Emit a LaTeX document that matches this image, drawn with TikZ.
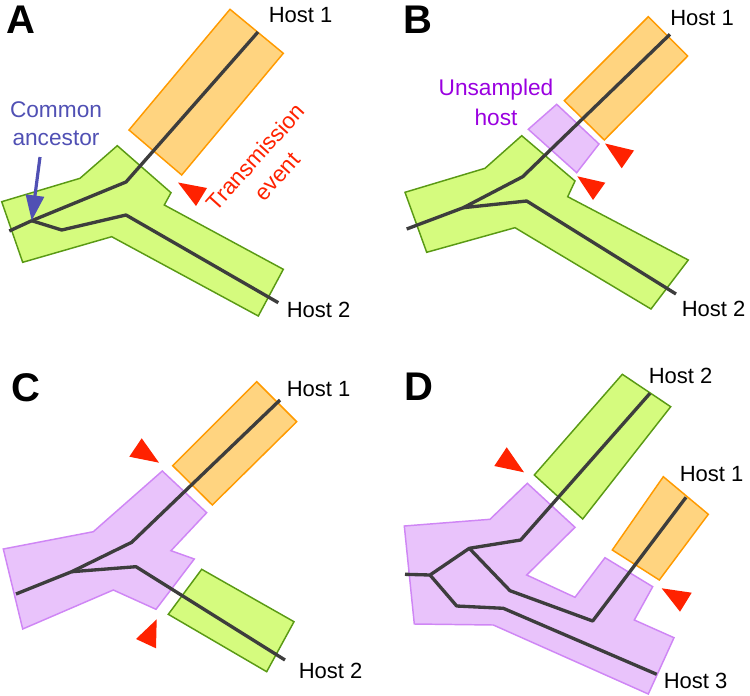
\documentclass[tikz,border=0pt]{standalone}
\usepackage{fontspec}
\setmainfont{Liberation Sans}
\usetikzlibrary{arrows.meta}
\definecolor{orfill}{HTML}{FFD480}
\definecolor{ordraw}{HTML}{FF9A00}
\definecolor{grfill}{HTML}{D5FB7E}
\definecolor{grdraw}{HTML}{5A9A14}
\definecolor{pufill}{HTML}{E9C3FB}
\definecolor{pudraw}{HTML}{CF86F5}
\definecolor{treegray}{HTML}{3D3D3D}
\definecolor{redtri}{HTML}{FF2200}
\definecolor{bluetxt}{HTML}{5050B4}
\definecolor{purtxt}{HTML}{9A00E0}
\tikzset{
  orbox/.style={fill=orfill,draw=ordraw,line width=1.1pt,line join=miter},
  grbox/.style={fill=grfill,draw=grdraw,line width=1.1pt,line join=miter},
  pubox/.style={fill=pufill,draw=pudraw,line width=1.1pt,line join=miter},
  tree/.style={draw=treegray,line width=2.5pt,line join=round},
  tri/.style={fill=redtri},
  hostlbl/.style={font=\fontsize{16.5}{19}\selectfont,anchor=base west,inner sep=0pt},
  panellbl/.style={font=\fontsize{30}{36}\selectfont\bfseries,anchor=base west,inner sep=0pt},
  notelbl/.style={font=\fontsize{17}{20}\selectfont,anchor=base,inner sep=0pt},
  twoline/.style={font=\fontsize{17}{21}\selectfont,align=center,anchor=center,inner sep=0pt}
}
\begin{document}
\begin{tikzpicture}[x=0.75pt,y=-0.75pt]
\useasboundingbox (0,0) rectangle (750,696);

% ================= Panel A =================
\draw[orbox] (230,9.3) -- (283.3,53.3) -- (181.7,175) -- (129,130) -- cycle;
\draw[grbox] (1.7,201.7) -- (80,178.3) -- (117.3,145.7) -- (171,192.7) -- (164.3,205)
  -- (283.3,269.3) -- (258.3,316) -- (111.7,236.7) -- (22.7,262.3) -- cycle;
\coordinate (aH1) at (258,32);
\coordinate (aJ) at (126,182);
\coordinate (aAnc) at (31.7,220.7);
\coordinate (aRoot) at (9.3,231);
\coordinate (aL1) at (61.7,230);
\coordinate (aL2) at (126,215);
\coordinate (aH2) at (278.3,302.7);
\draw[tree] (aH1) -- (aJ) -- (aAnc) -- (aRoot);
\draw[tree] (aAnc) -- (aL1) -- (aL2) -- (aH2);
\fill[tri] (178,182.5) -- (207,188) -- (196,206) -- cycle;
\node[panellbl] (labA) at (6,33) {A};
\node[hostlbl] (aHost1) at (268.5,22) {Host 1};
\node[hostlbl] (aHost2) at (286.5,317.5) {Host 2};
\node[twoline,text=bluetxt,font=\fontsize{17}{21}\selectfont] (common) at (56,123.7) {Common\\ancestor};
\coordinate (arrStart) at (40,157);
\draw[draw=bluetxt,fill=bluetxt,line width=2.4pt,-{Triangle[length=19pt,width=13.5pt]}] (arrStart) -- (aAnc);
\node[twoline,text=redtri,font=\fontsize{17}{21.7}\selectfont,rotate=48] (trans) at (266.3,166.6) {Transmission\\event};

% ================= Panel B =================
\draw[orbox] (648.3,16.7) -- (687.7,56) -- (604.3,140) -- (564.3,100.7) -- cycle;
\draw[pubox] (556.7,104.3) -- (599,144) -- (576.7,172.7) -- (528.3,129.3) -- cycle;
\draw[grbox] (405,192.3) -- (485,168.3) -- (521.7,135.7) -- (575,181) -- (567.7,196.7)
  -- (688.3,260) -- (651,309) -- (515,227.7) -- (426.7,252.3) -- cycle;
\coordinate (bH1) at (670,34.3);
\coordinate (bJ) at (522.7,176.7);
\coordinate (bAnc) at (463.3,207.7);
\coordinate (bRoot) at (406.7,229);
\coordinate (bL1) at (526.7,201);
\coordinate (bH2) at (676,294);
\draw[tree] (bH1) -- (bJ) -- (bAnc) -- (bRoot);
\draw[tree] (bAnc) -- (bL1) -- (bH2);
\fill[tri] (605,143.5) -- (634,150.5) -- (621.7,168.3) -- cycle;
\fill[tri] (577.3,176.3) -- (605.3,182.7) -- (593,200) -- cycle;
\node[panellbl] (labB) at (403,33) {B};
\node[hostlbl] (bHost1) at (670,25.5) {Host 1};
\node[hostlbl] (bHost2) at (681.5,316.5) {Host 2};
\node[notelbl,text=purtxt] (unsamp) at (496,95) {Unsampled};
\node[notelbl,text=purtxt] (unhost) at (496,125) {host};

% ================= Panel C =================
\draw[orbox] (256.7,381.7) -- (296.7,421.7) -- (212.3,505) -- (172.7,465.7) -- cycle;
\draw[pubox] (3.3,549) -- (93.3,531.7) -- (162.3,471) -- (206.7,512.7) -- (171,550.7)
  -- (194.3,559) -- (156,609.3) -- (113.3,590) -- (22.7,629) -- cycle;
\draw[grbox] (201.7,569.3) -- (294,621.7) -- (266.7,671.7) -- (168.3,614.3) -- cycle;
\coordinate (cH1) at (280,400);
\coordinate (cJ) at (131.7,542.3);
\coordinate (cAnc) at (71.7,571.7);
\coordinate (cRoot) at (16,594);
\coordinate (cL1) at (136,566.7);
\coordinate (cH2) at (285,660);
\draw[tree] (cH1) -- (cJ) -- (cAnc) -- (cRoot);
\draw[tree] (cAnc) -- (cL1) -- (cH2);
\fill[tri] (141.7,438.3) -- (159,462.7) -- (129.3,456.7) -- cycle;
\fill[tri] (156.7,619.3) -- (156,648.3) -- (136,639) -- cycle;
\node[panellbl] (labC) at (11,401) {C};
\node[hostlbl] (cHost1) at (286.5,396.5) {Host 1};
\node[hostlbl] (cHost2) at (298.5,678) {Host 2};

% ================= Panel D =================
\draw[grbox] (622.3,374.3) -- (670.7,406.7) -- (582.7,519) -- (534.3,475) -- cycle;
\draw[orbox] (663.3,476.7) -- (708.3,514.3) -- (659.3,580) -- (612.3,550) -- cycle;
\draw[pubox] (404.3,526) -- (490,519.3) -- (527.3,483.3) -- (575,527.3) -- (526.7,575)
  -- (575,597.3) -- (605,557.7) -- (652.7,586.7) -- (634.3,620) -- (674,637.7)
  -- (648.3,694) -- (493.3,625) -- (414.3,624) -- cycle;
\coordinate (dRoot) at (405,574.3);
\coordinate (dA1) at (430,575);
\coordinate (dA2) at (469.3,548.3);
\coordinate (dU1) at (520.7,540);
\coordinate (dH2) at (650,393.3);
\coordinate (dM1) at (510,590.7);
\coordinate (dM2) at (592.7,621);
\coordinate (dH1) at (686,497.3);
\coordinate (dB1) at (456.7,606);
\coordinate (dB2) at (503.3,608.3);
\coordinate (dH3) at (656.7,674.3);
\draw[tree] (dRoot) -- (dA1) -- (dA2) -- (dU1) -- (dH2);
\draw[tree] (dA2) -- (dM1) -- (dM2) -- (dH1);
\draw[tree] (dA1) -- (dB1) -- (dB2) -- (dH3);
\fill[tri] (506.7,447.3) -- (524,472.3) -- (494.3,466) -- cycle;
\fill[tri] (661.7,588.3) -- (691.7,592.7) -- (680,611.7) -- cycle;
\node[panellbl] (labD) at (404,400) {D};
\node[hostlbl] (dHost2) at (648.5,383) {Host 2};
\node[hostlbl] (dHost1) at (679.5,481.5) {Host 1};
\node[hostlbl] (dHost3) at (663.5,688) {Host 3};
\end{tikzpicture}
\end{document}
